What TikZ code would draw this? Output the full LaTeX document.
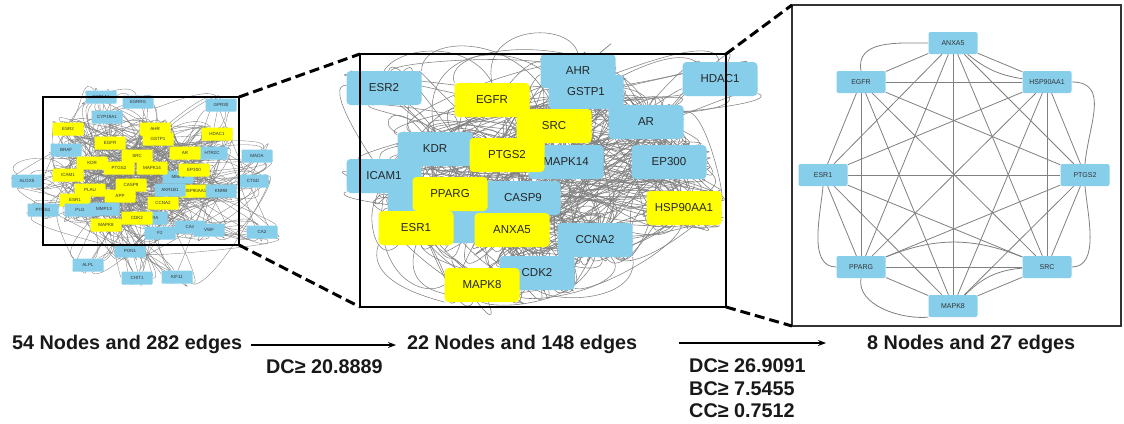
\documentclass[tikz,border=0pt]{standalone}
\usepackage{fontspec}
\setmainfont{Liberation Sans}
\usetikzlibrary{calc,arrows.meta}
\definecolor{nblue}{RGB}{135,206,235}
\definecolor{nyel}{RGB}{255,255,0}
\definecolor{egray}{RGB}{128,128,128}
\pgfdeclarelayer{bg}
\pgfsetlayers{bg,main}
\begin{document}
\begin{tikzpicture}[x=1pt,y=-1pt,
  mnode/.style={rounded corners=4pt, minimum width=75pt, minimum height=34pt, inner sep=0pt, font=\fontsize{11.5}{12}\selectfont, text=black!85},
  mb/.style={mnode, fill=nblue},
  my/.style={mnode, fill=nyel},
  rnode/.style={rounded corners=2pt, fill=nblue, minimum width=49pt, minimum height=22pt, inner sep=0pt, font=\fontsize{7}{8}\selectfont, text=black!80},
  lnode/.style={rounded corners=1pt, minimum width=31pt, minimum height=13pt, inner sep=0pt, font=\fontsize{4.5}{5}\selectfont, text=black!80},
  lb/.style={lnode, fill=nblue},
  ly/.style={lnode, fill=nyel},
  medge/.style={draw=egray, line width=0.55pt},
  ledge/.style={draw=egray, line width=0.35pt},
  redge/.style={draw=egray, line width=0.8pt},
  boxframe/.style={draw=black, line width=2.8pt, inner sep=0pt, outer sep=0pt},
  zoomline/.style={draw=black, line width=3pt, dash pattern=on 10pt off 5pt},
  captxt/.style={font=\fontsize{19.8}{22}\selectfont\bfseries, text=black!90, anchor=west, inner sep=0pt},
  flowarrow/.style={line width=1.2pt, -{Stealth[length=8pt,width=6pt]}}
]
\useasboundingbox (0,0) rectangle (1124,423);
\begin{pgfonlayer}{bg}
\fill[white] (0,0) rectangle (1124,423);
\end{pgfonlayer}

% ---------------- left network ----------------
\node[lb] (l1) at (101,97) {CYP1A1};
\node[lb] (l2) at (138,102) {ESRRG};
\node[lb] (l3) at (221,105) {GPR30};
\node[lb] (l4) at (107,117) {CYP19A1};
\node[lb] (l5) at (66,150) {BRAF};
\node[lb] (l6) at (212,153) {HTR2C};
\node[lb] (l7) at (257,156) {MAOA};
\node[lb] (l8) at (27,181) {ALOX5};
\node[lb] (l9) at (178,177) {MMP9};
\node[lb] (l10) at (253,181) {CTSD};
\node[lb] (l11) at (43,210) {PTGS1};
\node[lb] (l12) at (152,218) {RARA};
\node[lb] (l13) at (190,227) {CA4};
\node[lb] (l14) at (160,233) {F2};
\node[lb] (l15) at (209,230) {VWF};
\node[lb] (l16) at (262,232) {CA2};
\node[lb] (l17) at (130,251) {PON1};
\node[lb] (l18) at (88,265) {ALPL};
\node[lb] (l19) at (137,278) {CHIT1};
\node[lb] (l20) at (177,277) {KIF11};
\node[ly] (l21) at (68,129) {ESR2};
\node[ly] (l22) at (155,129) {AHR};
\node[ly] (l23) at (217,134) {HDAC1};
\node[ly] (l24) at (158,139) {GSTP1};
\node[ly] (l25) at (110,143) {EGFR};
\node[ly] (l26) at (137,156) {SRC};
\node[ly] (l27) at (185,153) {AR};
\node[ly] (l28) at (92,163) {KDR};
\node[ly] (l29) at (119,168) {PTGS2};
\node[ly] (l30) at (152,168) {MAPK14};
\node[ly] (l31) at (194,170) {EP300};
\node[ly] (l32) at (68,175) {ICAM1};
\node[ly] (l33) at (131,185) {CASP9};
\node[ly] (l34) at (90,190) {PLAU};
\node[ly] (l35) at (195,191) {HSP90AA1};
\node[ly] (l36) at (120,196) {APP};
\node[ly] (l37) at (75,200) {ESR1};
\node[ly] (l38) at (163,203) {CCNA2};
\node[ly] (l39) at (137,218) {CDK2};
\node[lb] (l40) at (170,190) {AKR1B1};
\node[lb] (l41) at (221,191) {KNRB};
\node[lb] (l42) at (80,210) {PLG};
\node[lb] (l43) at (104,209) {MMP13};
\node[ly] (l44) at (106,225) {MAPK8};

% ---------------- middle network ----------------
\node[mb] (m1) at (384,88) {ESR2};
\node[mb] (m2) at (720,79) {HDAC1};
\node[mb] (m3) at (578,71) {AHR};
\node[mb] (m4) at (586,92) {GSTP1};
\node[mb] (m5) at (646,122) {AR};
\node[mb] (m6) at (669,162) {EP300};
\node[my] (m7) at (492,100) {EGFR};
\node[my] (m8) at (554,126) {SRC};
\node[mb] (m9) at (566,162) {MAPK14};
\node[mb] (m10) at (435,149) {KDR};
\node[mb] (m11) at (384,176) {ICAM1};
\node[mb] (m21) at (425,205) {};
\node[mb] (m22) at (465,226) {};
\node[my] (m12) at (507,155) {PTGS2};
\node[mb] (m13) at (523,198) {CASP9};
\node[my] (m14) at (450,194) {PPARG};
\node[my] (m15) at (684,208) {HSP90AA1};
\node[mb] (m16) at (595,240) {CCNA2};
\node[my] (m17) at (416,228) {ESR1};
\node[my] (m18) at (512,230) {ANXA5};
\node[mb] (m19) at (537,273) {CDK2};
\node[my] (m20) at (482,285) {MAPK8};

% ---------------- right network ----------------
\node[rnode] (r1) at (953,43) {ANXA5};
\node[rnode] (r2) at (1047,82) {HSP90AA1};
\node[rnode] (r3) at (1085,175) {PTGS2};
\node[rnode] (r4) at (1047,267) {SRC};
\node[rnode] (r5) at (953,306) {MAPK8};
\node[rnode] (r6) at (861,267) {PPARG};
\node[rnode] (r7) at (823,175) {ESR1};
\node[rnode] (r8) at (861,82) {EGFR};

% ---------------- edges ----------------
\begin{pgfonlayer}{bg}
\pgfmathsetseed{4242}
\foreach \k in {1,...,148}{
  \pgfmathtruncatemacro{\a}{random(1,22)}
  \pgfmathtruncatemacro{\b}{random(1,22)}
  \pgfmathsetmacro{\ux}{rand*80}
  \pgfmathsetmacro{\uy}{rand*70}
  \pgfmathsetmacro{\vx}{rand*80}
  \pgfmathsetmacro{\vy}{rand*70}
  \draw[medge] (m\a) .. controls ($(m\a)+(\ux,\uy)$) and ($(m\b)+(\vx,\vy)$) .. (m\b);
}
\pgfmathsetseed{515}
\foreach \k in {1,...,200}{
  \pgfmathtruncatemacro{\a}{{4,5,6,8,9,12,13,15,16,18,19,10,14,6,15,16,5,13}[random(0,17)]}
  \pgfmathtruncatemacro{\b}{{4,5,6,8,9,12,13,15,16,18,19,10,14,6,15,16,5,13}[random(0,17)]}
  \pgfmathsetmacro{\ux}{rand*60}
  \pgfmathsetmacro{\uy}{rand*55}
  \pgfmathsetmacro{\vx}{rand*60}
  \pgfmathsetmacro{\vy}{rand*55}
  \draw[medge] (m\a) .. controls ($(m\a)+(\ux,\uy)$) and ($(m\b)+(\vx,\vy)$) .. (m\b);
}
% large loops of the middle network
\draw[medge] (m7.north) .. controls (480,25) and (570,20) .. (m3.north);
\draw[medge] (m1.north east) .. controls (420,35) and (520,30) .. (m8.north);
\draw[medge] (m10.north) .. controls (415,55) and (500,35) .. (m4.north west);
\draw[medge] (m7.north west) .. controls (440,40) and (610,30) .. (m5.north);
\draw[medge] (m1.north) .. controls (400,45) and (470,40) .. (m7.north);
\draw[medge] (m11.south) .. controls (370,270) and (420,300) .. (m20.west);
\draw[medge] (m17.south) .. controls (400,295) and (450,305) .. (m19.south);
\draw[medge] (m17.south west) .. controls (365,285) and (440,300) .. (m20.south west);
\draw[medge] (m19.south) .. controls (560,305) and (640,300) .. (m16.south east);
\draw[medge] (m20.south) .. controls (500,310) and (580,305) .. (m16.south);
\pgfmathsetseed{777}
\foreach \k in {1,...,282}{
  \pgfmathtruncatemacro{\a}{random(1,44)}
  \pgfmathtruncatemacro{\b}{random(1,44)}
  \pgfmathsetmacro{\ux}{rand*35}
  \pgfmathsetmacro{\uy}{rand*30}
  \pgfmathsetmacro{\vx}{rand*35}
  \pgfmathsetmacro{\vy}{rand*30}
  \draw[ledge] (l\a) .. controls ($(l\a)+(\ux,\uy)$) and ($(l\b)+(\vx,\vy)$) .. (l\b);
}
\pgfmathsetseed{919}
\foreach \k in {1,...,180}{
  \pgfmathtruncatemacro{\a}{random(21,44)}
  \pgfmathtruncatemacro{\b}{random(21,44)}
  \pgfmathsetmacro{\ux}{rand*22}
  \pgfmathsetmacro{\uy}{rand*18}
  \pgfmathsetmacro{\vx}{rand*22}
  \pgfmathsetmacro{\vy}{rand*18}
  \draw[ledge] (l\a) .. controls ($(l\a)+(\ux,\uy)$) and ($(l\b)+(\vx,\vy)$) .. (l\b);
}
\foreach \i [evaluate=\i as \s using int(\i+1)] in {1,...,7}{
  \foreach \j in {\s,...,8}{
    \draw[redge] (r\i) -- (r\j);
  }
}
\draw[redge] (r8.north) to[out=100,in=180,looseness=1.1] (r1.west);
\draw[redge] (r2.east) to[out=0,in=85,looseness=1.2] (r3.north);
\draw[redge] (r7.south) to[out=-95,in=180,looseness=0.9] (r6.west);
\draw[redge] (r6.south) to[out=-100,in=185,looseness=0.9] (r5.south west);
\draw[redge] (r3.south) to[out=-85,in=0,looseness=0.9] (r4.east);
\draw[redge] (r6) to[bend left=22] (r4);
\draw[redge] (r1) to[bend right=15] (r2);
\draw[redge] (r5) to[bend left=20] (r4);
\end{pgfonlayer}

% ---------------- frames and zoom lines ----------------
\node[boxframe, minimum width=196pt, minimum height=148pt] (lframe) at (141,171) {};
\node[boxframe, minimum width=366pt, minimum height=253pt] (mframe) at (543,180.5) {};
\node[boxframe, draw=black!80, minimum width=329pt, minimum height=321pt] (rframe) at (956.5,165.5) {};
\draw[zoomline] (lframe.north east) -- (mframe.north west);
\draw[zoomline] (lframe.south east) -- (mframe.south west);
\draw[zoomline] (mframe.north east) -- (rframe.north west);
\draw[zoomline] (mframe.south east) -- (rframe.south west);

% ---------------- captions ----------------
\node[captxt] (t1) at (12,344) {54 Nodes and 282 edges};
\node[captxt] (t2) at (407,344) {22 Nodes and 148 edges};
\node[captxt] (t3) at (867,344) {8 Nodes and 27 edges};
\node[captxt] (c1) at (266,367) {DC≥ 20.8889};
\node[captxt] (c2) at (689,366) {DC≥ 26.9091};
\node[captxt] (c3) at (689,389) {BC≥ 7.5455};
\node[captxt] (c4) at (689,411) {CC≥ 0.7512};
\draw[flowarrow] ([xshift=9pt,yshift=-1pt]t1.east) -- ([xshift=-11pt,yshift=-1pt]t2.west);
\draw[flowarrow] ([xshift=42pt,yshift=1pt]t2.east) -- ([xshift=-41pt,yshift=1pt]t3.west);
\end{tikzpicture}
\end{document}
